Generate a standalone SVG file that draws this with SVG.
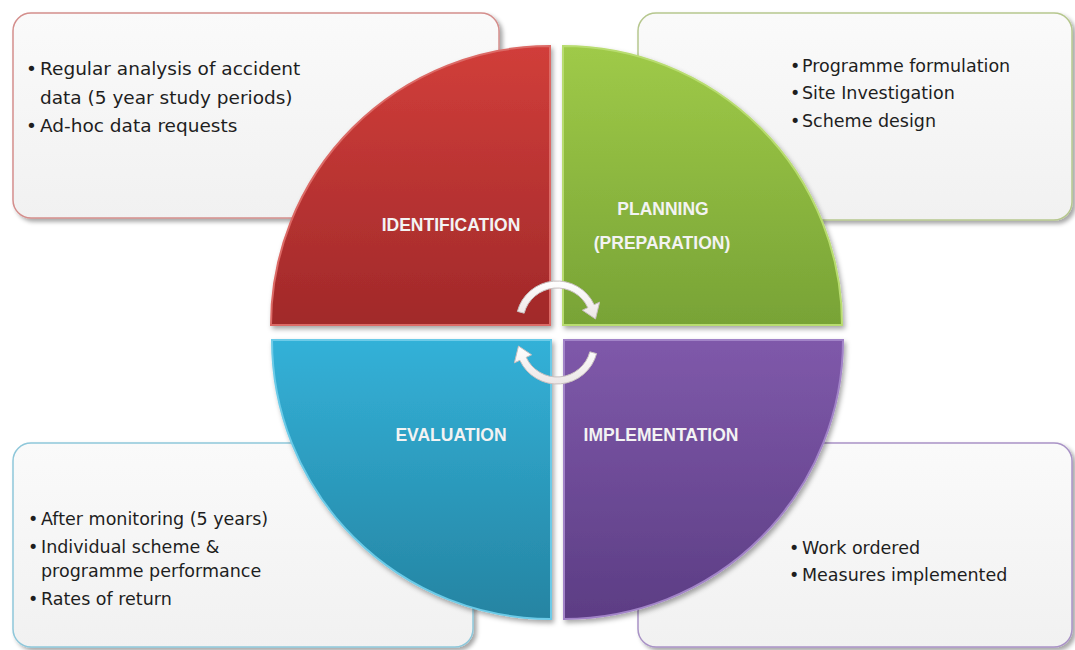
<svg xmlns="http://www.w3.org/2000/svg" width="1075" height="650" viewBox="0 0 1075 650">
<defs>
<filter id="sh" x="-5%" y="-5%" width="115%" height="115%">
<feDropShadow dx="3" dy="3" stdDeviation="2" flood-color="#000" flood-opacity="0.35"/>
</filter>
<filter id="qs" x="-5%" y="-5%" width="115%" height="115%">
<feDropShadow dx="2" dy="3" stdDeviation="2.5" flood-color="#000" flood-opacity="0.35"/>
</filter>
<linearGradient id="gBox" x1="0" y1="0" x2="0" y2="1"><stop offset="0" stop-color="#fafafa"/><stop offset="1" stop-color="#f1f1f1"/></linearGradient>
<linearGradient id="gRed" x1="0" y1="0" x2="0" y2="1"><stop offset="0" stop-color="#d13e3a"/><stop offset="1" stop-color="#a1292a"/></linearGradient>
<linearGradient id="gGreen" x1="0" y1="0" x2="0" y2="1"><stop offset="0" stop-color="#9fca48"/><stop offset="1" stop-color="#78a336"/></linearGradient>
<linearGradient id="gBlue" x1="0" y1="0" x2="0" y2="1"><stop offset="0" stop-color="#33b1d8"/><stop offset="1" stop-color="#2584a2"/></linearGradient>
<linearGradient id="gPurple" x1="0" y1="0" x2="0" y2="1"><stop offset="0" stop-color="#7f59aa"/><stop offset="1" stop-color="#5c3d84"/></linearGradient>
<linearGradient id="gArr" x1="0" y1="0" x2="0" y2="1"><stop offset="0" stop-color="#ffffff"/><stop offset="1" stop-color="#ece6e6"/></linearGradient>
</defs>
<style>
.box{fill:url(#gBox);stroke-width:1.5;filter:url(#sh)}
.q{stroke-width:2;filter:url(#qs)}
.t{font-family:"DejaVu Sans",sans-serif;fill:#1e1e1e}
.t18{font-size:18.5px}
.t17{font-size:17.5px}
.lab{font-family:"Liberation Sans",Arial,sans-serif;font-weight:bold;font-size:17.5px;fill:#f3f3f3;text-anchor:middle}
.arr{fill:url(#gArr);stroke:#c8bfbf;stroke-width:1}
</style>
<rect width="1075" height="650" fill="#ffffff"/>

<g id="box-identification">
<rect class="box" x="13" y="13" width="486" height="205" rx="18" stroke="#d48e8c"/>
<text class="t t18" y="75"><tspan x="26">•</tspan><tspan x="40">Regular analysis of accident</tspan></text>
<text class="t t18" x="40" y="103.5">data (5 year study periods)</text>
<text class="t t18" y="132"><tspan x="26">•</tspan><tspan x="40">Ad-hoc data requests</tspan></text>
</g>

<g id="box-planning">
<rect class="box" x="638" y="13" width="434" height="207" rx="18" stroke="#b6c78e"/>
<text class="t t17" y="72"><tspan x="790">•</tspan><tspan x="802">Programme formulation</tspan></text>
<text class="t t17" y="99"><tspan x="790">•</tspan><tspan x="802">Site Investigation</tspan></text>
<text class="t t17" y="127"><tspan x="790">•</tspan><tspan x="802">Scheme design</tspan></text>
</g>

<g id="box-evaluation">
<rect class="box" x="13" y="443" width="460" height="204" rx="18" stroke="#8ec7da"/>
<text class="t t17" y="525"><tspan x="28">•</tspan><tspan x="41">After monitoring (5 years)</tspan></text>
<text class="t t17" y="553"><tspan x="28">•</tspan><tspan x="41">Individual scheme &amp;</tspan></text>
<text class="t t17" x="41" y="577">programme performance</text>
<text class="t t17" y="605"><tspan x="28">•</tspan><tspan x="41">Rates of return</tspan></text>
</g>

<g id="box-implementation">
<rect class="box" x="638" y="443" width="434" height="204" rx="18" stroke="#a993c6"/>
<text class="t t17" y="554"><tspan x="789">•</tspan><tspan x="802">Work ordered</tspan></text>
<text class="t t17" y="581"><tspan x="789">•</tspan><tspan x="802">Measures implemented</tspan></text>
</g>

<g id="identification">
<path class="q" d="M550 325 L271 325 A279 279 0 0 1 550 46 Z" fill="url(#gRed)" stroke="#dc6a66"/>
<text class="lab" x="451" y="231">IDENTIFICATION</text>
</g>
<g id="planning">
<path class="q" d="M563 325 L563 46 A279 279 0 0 1 842 325 Z" fill="url(#gGreen)" stroke="#b8dc70"/>
<text class="lab" x="663" y="215">PLANNING</text>
<text class="lab" x="662" y="249">(PREPARATION)</text>
</g>
<g id="evaluation">
<path class="q" d="M551 340 L551 619 A279 279 0 0 1 272 340 Z" fill="url(#gBlue)" stroke="#6ccbe8"/>
<text class="lab" x="451" y="441">EVALUATION</text>
</g>
<g id="implementation">
<path class="q" d="M564 340 L843 340 A279 279 0 0 1 564 619 Z" fill="url(#gPurple)" stroke="#a284c8"/>
<text class="lab" x="661" y="441">IMPLEMENTATION</text>
</g>

<g id="connectors">
<path class="arr" d="M517.4 311.39 A41 41 0 0 1 594.16 304.67 L599.6 302.14 L595.5 319 L582.38 310.17 L587.81 307.63 A34 34 0 0 0 524.16 313.2 Z"/>
<path class="arr" d="M596.6 353.61 A41 41 0 0 1 519.84 360.33 L514.4 362.86 L518.5 346 L531.62 354.83 L526.19 357.37 A34 34 0 0 0 589.84 351.8 Z"/>
</g>
</svg>
